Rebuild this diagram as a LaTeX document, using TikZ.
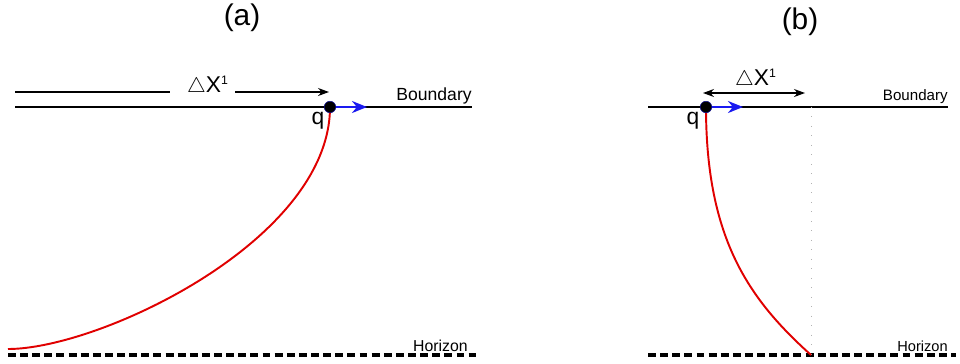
\documentclass[tikz,border=0pt]{standalone}
\usepackage{fontspec}
\setmainfont{Liberation Sans}
\usepackage{tikz}
\usetikzlibrary{arrows.meta,positioning}
\definecolor{cred}{HTML}{E00000}
\definecolor{cblue}{HTML}{1A1AF0}
\tikzset{
  >={Stealth[length=2.2mm,width=1.6mm]},
  wall/.style={black, line width=0.9pt},
  horizon/.style={black, line width=2.2pt, dash pattern=on 4.5pt off 2.4pt},
  geod/.style={cred, line width=1.1pt},
  velo/.style={-{Stealth[length=3mm,width=2.4mm]}, cblue, line width=1.5pt},
  span/.style={->, black, line width=0.6pt},
  qdot/.style={circle, fill=black, draw=cblue!60!black, line width=0.3pt,
               minimum size=2.3mm, inner sep=0pt},
  ttl/.style={font=\fontsize{17}{20}\selectfont, inner sep=0pt},
  lblbig/.style={font=\fontsize{10}{12}\selectfont, inner sep=0pt},
  lblsmall/.style={font=\fontsize{8.6}{10}\selectfont, inner sep=0pt},
  qlbl/.style={font=\fontsize{13}{15}\selectfont, inner sep=0pt},
  dxlbl/.style={font=\fontsize{13}{15}\selectfont, inner sep=0pt},
}

\begin{document}
\begin{tikzpicture}[x=0.02cm,y=-0.02cm]
  \useasboundingbox (0,0) rectangle (960,363);

  % panel (a)
  \node[ttl] (ta) at (242,18) {(a)};
  \coordinate (bla) at (15,107);
  \coordinate (bra) at (472,107);
  \draw[wall] (bla) -- (bra);
  \node[lblbig, anchor=south east] (bnda) at (472,104) {Boundary};
  \coordinate (hla) at (8,355);
  \coordinate (hra) at (476,355);
  \draw[horizon] (hla) -- (hra);
  \node[lblsmall, font=\fontsize{9}{11}\selectfont, anchor=south east] (hza) at (468,352) {Horizon};

  \node[dxlbl] (dxa) at (208,86) {$\triangle$X\textsuperscript{\scriptsize 1}};
  \coordinate (sla) at (15,92);
  \coordinate (s1a) at (170,92);
  \coordinate (s2a) at (235,92);
  \coordinate (sra) at (329,92);
  \draw[black, line width=0.6pt] (sla) -- (s1a);
  \draw[span] (s2a) -- (sra);

  \coordinate (ea) at (8,349);
  \draw[geod] (330,107) .. controls (330,240) and (100,349) .. (ea);
  \node[qdot] (qa) at (330,107) {};
  \coordinate (va) at (367,107);
  \draw[velo] (qa.east) -- (va);
  \node[qlbl] (qla) at (318,121) {q};

  % panel (b)
  \node[ttl] (tb) at (800,22) {(b)};
  \coordinate (blb) at (648,107);
  \coordinate (brb) at (948,107);
  \draw[wall] (blb) -- (brb);
  \node[lblsmall, anchor=south east] (bndb) at (948,104) {Boundary};
  \coordinate (hlb) at (648,355);
  \coordinate (hrb) at (956,355);
  \draw[horizon] (hlb) -- (hrb);
  \node[lblsmall, font=\fontsize{8.3}{10}\selectfont, anchor=south east] (hzb) at (948,352) {Horizon};

  \coordinate (dtop) at (811,107);
  \coordinate (dbot) at (811,355);
  \draw[gray!60, line width=0.5pt, dash pattern=on 0.4pt off 5pt] (dtop) -- (dbot);

  \coordinate (slb) at (703,93);
  \coordinate (srb) at (805,93);
  \draw[<->, black, line width=0.6pt] (slb) -- (srb);
  \node[dxlbl] (dxb) at (756,79) {$\triangle$X\textsuperscript{\scriptsize 1}};

  \draw[geod] (706,107) .. controls (706,240) and (750,300) .. (dbot);
  \node[qdot] (qb) at (706,107) {};
  \coordinate (vb) at (743,107);
  \draw[velo] (qb.east) -- (vb);
  \node[qlbl] (qlb) at (693,121) {q};
\end{tikzpicture}
\end{document}
